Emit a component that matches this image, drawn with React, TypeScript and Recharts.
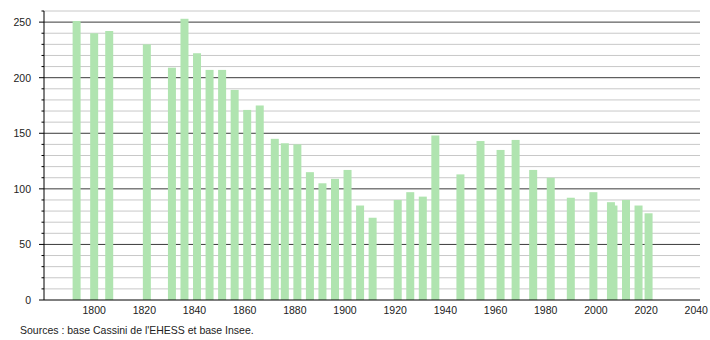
import { BarChart, Bar, XAxis, YAxis, CartesianGrid } from 'recharts';

// census years and population
const years = [
    1793, 1800, 1806, 1821, 1831, 1836, 1841, 1846, 1851, 1856,
    1861, 1866, 1872, 1876, 1881, 1886, 1891, 1896, 1901, 1906,
    1911, 1921, 1926, 1931, 1936, 1946, 1954, 1962, 1968, 1975,
    1982, 1990, 1999, 2006, 2007, 2012, 2017, 2021,
];
const population = [
    251, 240, 242, 230, 209, 253, 222, 207, 207, 189,
    171, 175, 145, 141, 140, 115, 105, 109, 117, 85,
    74, 90, 97, 93, 148, 113, 143, 135, 144, 117,
    110, 92, 97, 88, 85, 90, 85, 78,
];

const xTicks = [1800, 1820, 1840, 1860, 1880, 1900, 1920, 1940, 1960, 1980, 2000, 2020, 2040];
const yTicks = [0, 10, 20, 30, 40, 50, 60, 70, 80, 90, 100, 110, 120, 130, 140, 150, 160, 170, 180, 190, 200, 210, 220, 230, 240, 250, 260];
const majorTicks = [0, 50, 100, 150, 200, 250];
const minorGrid = [10, 20, 30, 40, 60, 70, 80, 90, 110, 120, 130, 140, 160, 170, 180, 190, 210, 220, 230, 240, 260];
const majorGrid = [50, 100, 150, 200, 250];

const data = years.map((year, i) => ({ year, pop: population[i] }));

const FONT = '"Liberation Sans", Arial, sans-serif';

const YTick = ({ x, y, payload }: any) => {
    const major = majorTicks.includes(payload.value);
    return (
        <g>
            <line x1={x - (major ? 5 : 2.5)} x2={x} y1={y} y2={y} stroke="#000" strokeWidth={1} />
            {major && (
                <text x={x - 13} y={y} dy={4} textAnchor="end" fontSize={10.5} fontFamily={FONT} fill="#222">
                    {payload.value}
                </text>
            )}
        </g>
    );
};

// bars are centred on their census year, fixed 8px wide (the 2006/2007 pair overlaps)
const WideBar = (props: any) => {
    const { x, y, width, height } = props;
    return <rect x={x + width / 2 - 4} y={y} width={8} height={height} fill="#b0e4b0" />;
};

export default function App() {
    return (
        <div style={{ position: 'absolute', left: 0, top: 0, width: 710, height: 340, background: '#fff' }}>
            <BarChart width={710} height={340} data={data} margin={{ top: 11, right: 10, left: 0, bottom: 10 }}>
                <CartesianGrid vertical={false} horizontalValues={minorGrid} stroke="#c8c8c8" />
                <CartesianGrid vertical={false} horizontalValues={majorGrid} stroke="#3a3a3a" />
                <XAxis
                    dataKey="year"
                    type="number"
                    domain={[1780, 2041.5]}
                    ticks={xTicks}
                    interval={0}
                    allowDataOverflow
                    tickLine={false}
                    axisLine={{ stroke: '#000' }}
                    tickMargin={1}
                    height={30}
                    tick={{ fontSize: 10.5, fontFamily: FONT, fill: '#222' }}
                />
                <YAxis
                    type="number"
                    domain={[0, 260]}
                    ticks={yTicks}
                    interval={0}
                    width={44}
                    tickSize={0}
                    tickMargin={0}
                    tickLine={false}
                    axisLine={{ stroke: '#000' }}
                    tick={<YTick />}
                />
                <Bar dataKey="pop" fill="#b0e4b0" shape={<WideBar />} isAnimationActive={false} />
            </BarChart>
            <div style={{ position: 'absolute', left: 20, top: 324, fontSize: 10.5, lineHeight: '12px', fontFamily: FONT, color: '#222' }}>
                Sources : base Cassini de l'EHESS et base Insee.
            </div>
        </div>
    );
}
